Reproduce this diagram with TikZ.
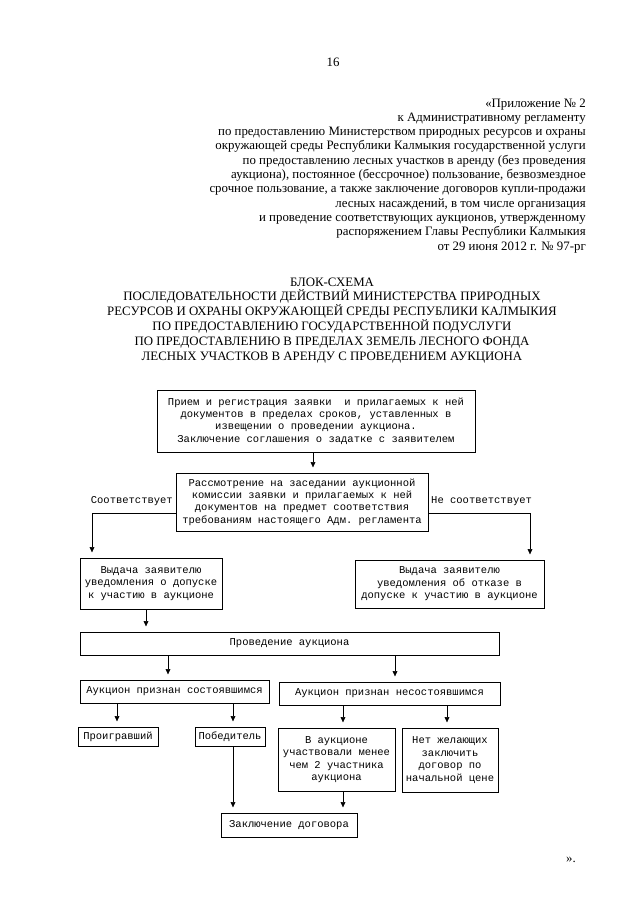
\documentclass[tikz,border=0pt]{standalone}
\usepackage{fontspec}
\setmainfont{Liberation Serif}
\setmonofont{Liberation Mono}
\usetikzlibrary{arrows.meta}
\newcommand{\pbox}[6]{%
  \node[boxst, minimum width={(#4-#2)*0.328125mm}, minimum height={(#5-#3)*0.328125mm}] (#1) at ({(#2+#4)/2},{(#3+#5)/2}) {#6};}
\begin{document}
\begin{tikzpicture}[x=0.328125mm,y=-0.328125mm,
  boxst/.style={draw, line width=0.5pt, inner sep=0pt, align=center, font=\ttfamily\fontsize{9.8}{11.6}\selectfont},
  lbl/.style={inner sep=0pt, font=\ttfamily\fontsize{9.8}{11.6}\selectfont},
  hdr/.style={inner sep=0pt, anchor=base east, font=\fontsize{12}{14}\selectfont},
  ttl/.style={inner sep=0pt, anchor=base, font=\fontsize{12}{14}\selectfont},
  arr/.style={line width=0.5pt, -{Triangle[length=5pt,width=4.5pt]}, shorten >=5pt}]
\fill[white] (0,0) rectangle (640,905);
\useasboundingbox (0,0) rectangle (640,905);

\node[ttl] (pg) at (333,66) {16};

\foreach \t [count=\i] in {{«Приложение № 2},
 {к Административному регламенту},
 {по предоставлению Министерством природных ресурсов и охраны},
 {окружающей среды Республики Калмыкия государственной услуги},
 {по предоставлению лесных участков в аренду (без проведения},
 {аукциона), постоянное (бессрочное) пользование, безвозмездное},
 {срочное пользование, а также заключение договоров купли-продажи},
 {лесных насаждений, в том числе организация},
 {и проведение соответствующих аукционов, утвержденному},
 {распоряжением Главы Республики Калмыкия},
 {от 29 июня 2012 г. № 97-рг}}
 \node[hdr] (h\i) at (586,{107+(\i-1)*14.3}) {\t};

\foreach \t [count=\i] in {{БЛОК-СХЕМА},
 {ПОСЛЕДОВАТЕЛЬНОСТИ ДЕЙСТВИЙ МИНИСТЕРСТВА ПРИРОДНЫХ},
 {РЕСУРСОВ И ОХРАНЫ ОКРУЖАЮЩЕЙ СРЕДЫ РЕСПУБЛИКИ КАЛМЫКИЯ},
 {ПО ПРЕДОСТАВЛЕНИЮ ГОСУДАРСТВЕННОЙ ПОДУСЛУГИ},
 {ПО ПРЕДОСТАВЛЕНИЮ В ПРЕДЕЛАХ ЗЕМЕЛЬ ЛЕСНОГО ФОНДА},
 {ЛЕСНЫХ УЧАСТКОВ В АРЕНДУ С ПРОВЕДЕНИЕМ АУКЦИОНА}}
 \node[ttl] (t\i) at (332,{286+(\i-1)*14.8}) {\t};

\pbox{b1}{157}{390}{475}{452}{Прием и регистрация заявки\ \ и прилагаемых к ней\\документов в пределах сроков, уставленных в\\извещении о проведении аукциона.\\Заключение соглашения о задатке с заявителем}
\pbox{b2}{176}{473}{428}{531}{Рассмотрение на заседании аукционной\\комиссии заявки и прилагаемых к ней\\документов на предмет соответствия\\требованиям настоящего Адм. регламента}
\pbox{b3}{80}{558}{222}{609}{Выдача заявителю\\уведомления о допуске\\к участию в аукционе}
\pbox{b4}{355}{560}{544}{608}{Выдача заявителю\\уведомления об отказе в\\допуске к участию в аукционе}
\pbox{b5}{80}{632}{499}{655}{Проведение аукциона}
\pbox{b6}{80}{680}{269}{703}{Аукцион признан состоявшимся}
\pbox{b7}{279}{682}{500}{705}{Аукцион признан несостоявшимся}
\pbox{b8}{78}{727}{158}{746}{Проигравший}
\pbox{b9}{195}{727}{265}{746}{Победитель}
\pbox{b10}{278}{728}{395}{791}{В аукционе\\участвовали менее\\чем 2 участника\\аукциона}
\pbox{b11}{402}{728}{498}{792}{Нет желающих\\заключить\\договор по\\начальной цене}
\pbox{b12}{221}{813}{357}{837}{Заключение договора}

\node[lbl, anchor=base east] (lyes) at (173,503) {Соответствует};
\node[lbl, anchor=base west] (lno) at (431,503) {Не соответствует};

\node[hdr, anchor=base west] (endq) at (566,862) {».};

\coordinate (xA) at (313,0);
\coordinate (xL) at (92,0);
\coordinate (xR) at (530,0);
\coordinate (yS) at (0,513);
\coordinate (xB) at (146,0);
\coordinate (xC) at (168,0);
\coordinate (xD) at (395,0);
\coordinate (xE) at (117,0);
\coordinate (xF) at (233,0);
\coordinate (xG) at (343,0);
\coordinate (xH) at (447,0);

\draw[arr] (b1.south -| xA) -- (b2.north -| xA);
\draw[arr] (b2.west |- yS) -- (xL |- yS) -- (b3.north -| xL);
\draw[arr] (b2.east |- yS) -- (xR |- yS) -- (b4.north -| xR);
\draw[arr] (b3.south -| xB) -- (b5.north -| xB);
\draw[arr] (b5.south -| xC) -- (b6.north -| xC);
\draw[arr] (b5.south -| xD) -- (b7.north -| xD);
\draw[arr] (b6.south -| xE) -- (b8.north -| xE);
\draw[arr] (b6.south -| xF) -- (b9.north -| xF);
\draw[arr] (b7.south -| xG) -- (b10.north -| xG);
\draw[arr] (b7.south -| xH) -- (b11.north -| xH);
\draw[arr] (b9.south -| xF) -- (b12.north -| xF);
\draw[arr] (b10.south -| xG) -- (b12.north -| xG);
\end{tikzpicture}
\end{document}
